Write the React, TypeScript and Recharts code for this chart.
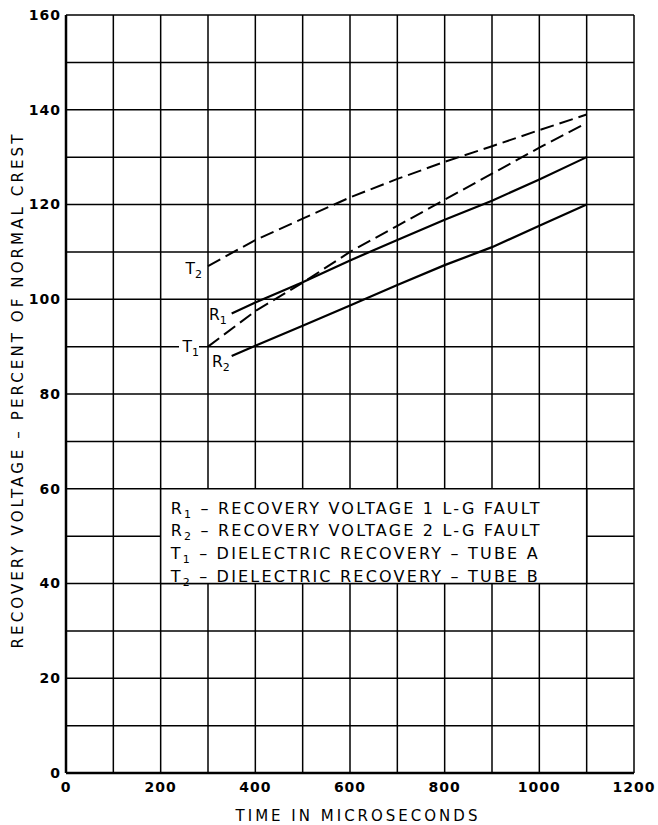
import type { CSSProperties } from "react";
import {
  CartesianGrid,
  Line,
  LineChart,
  ReferenceArea,
  XAxis,
  YAxis,
} from "recharts";

const time = [300, 350, 400, 500, 600, 700, 800, 900, 1000, 1100];
const r1 = [null, 97, 99.3, 103.6, 108.2, 112.5, 116.8, 120.8, 125.3, 130];
const r2 = [null, 88, 90.2, 94.4, 98.7, 103, 107.2, 111, 115.5, 120];
const t1 = [90, null, 97.5, 103.5, 110, 115.5, 121, 126.5, 132, 137.2];
const t2 = [107, null, 112.5, 117, 121.5, 125.4, 129, 132.3, 135.7, 139];

const xTicks = [0, 200, 400, 600, 800, 1000, 1200];
const yTicks = [0, 20, 40, 60, 80, 100, 120, 140, 160];
const gridX = [0, 100, 200, 300, 400, 500, 600, 700, 800, 900, 1000, 1100, 1200];
const gridY = [0, 10, 20, 30, 40, 50, 60, 70, 80, 90, 100, 110, 120, 130, 140, 150, 160];

const legendLines = [
  { letter: "R", sub: "1", text: " – RECOVERY VOLTAGE 1 L-G FAULT" },
  { letter: "R", sub: "2", text: " – RECOVERY VOLTAGE 2 L-G FAULT" },
  { letter: "T", sub: "1", text: " – DIELECTRIC RECOVERY – TUBE A" },
  { letter: "T", sub: "2", text: " – DIELECTRIC RECOVERY – TUBE B" },
];

const data = time.map((t, i) => ({ time: t, r1: r1[i], r2: r2[i], t1: t1[i], t2: t2[i] }));

const FONT = '"DejaVu Sans", sans-serif';

// label at the start of a curve; "gap" blanks the grid line behind it
function curveLabel(letter: string, sub: string, at: number, dx: number, dy: number, gap = false) {
  return (props: any) => {
    if (props.index !== at) return null;
    const x = props.x - dx;
    const y = props.y + dy;
    return (
      <g>
        {gap && <rect x={x - 20} y={y - 13} width={20} height={18} fill="#fff" />}
        <text x={x} y={y} textAnchor="end" fontFamily={FONT} fontSize={15.5} fill="#000">
          {letter}
          <tspan fontSize={11} dy={4}>{sub}</tspan>
        </text>
      </g>
    );
  };
}

function LegendBox(props: any) {
  const { x, y } = props.viewBox;
  return (
    <g>
      {legendLines.map((l, i) => (
        <text
          key={i}
          x={x + 10}
          y={y + 25 + i * 22.7}
          fontFamily={FONT}
          fontSize={16}
          letterSpacing={2.2}
          fill="#000"
        >
          {l.letter}
          <tspan fontSize={11} dy={4}>{l.sub}</tspan>
          <tspan dy={-4}>{l.text}</tspan>
        </text>
      ))}
    </g>
  );
}

export default function App() {
  return (
    <div style={styles.page}>
      <LineChart
        width={658}
        height={825}
        data={data}
        margin={{ top: 15, right: 24, left: 0, bottom: 0 }}
      >
        <CartesianGrid
          horizontalValues={gridY}
          verticalValues={gridX}
          stroke="#000"
          strokeWidth={1.5}
        />
        <XAxis
          dataKey="time"
          type="number"
          domain={[0, 1200]}
          ticks={xTicks}
          height={52}
          tickSize={0}
          tickMargin={9}
          tickLine={false}
          axisLine={{ stroke: "#000", strokeWidth: 2.5 }}
          tick={{ fill: "#000", fontSize: 14, fontFamily: FONT, fontWeight: "bold", letterSpacing: 1 }}
          label={{
            value: "TIME IN MICROSECONDS",
            position: "insideBottom",
            offset: 4,
            dx: 8,
            style: { fill: "#000", fontSize: 15, fontFamily: FONT, letterSpacing: 3 },
          }}
        />
        <YAxis
          type="number"
          domain={[0, 160]}
          ticks={yTicks}
          width={66}
          tickSize={0}
          tickMargin={5}
          tickLine={false}
          axisLine={{ stroke: "#000", strokeWidth: 2.5 }}
          tick={{ fill: "#000", fontSize: 14, fontFamily: FONT, fontWeight: "bold", letterSpacing: 1 }}
          label={(p: any) => {
            const vb = p.viewBox;
            const cx = 18;
            const cy = vb.y + vb.height / 2 - 4;
            return (
              <text
                x={cx}
                y={cy}
                transform={`rotate(-90 ${cx} ${cy})`}
                textAnchor="middle"
                dominantBaseline="central"
                fontFamily={FONT}
                fontSize={15}
                letterSpacing={3.1}
                fill="#000"
              >
                RECOVERY VOLTAGE – PERCENT OF NORMAL CREST
              </text>
            );
          }}
        />
        <ReferenceArea
          x1={200}
          x2={1100}
          y1={40}
          y2={60}
          fill="#fff"
          fillOpacity={1}
          stroke="#000"
          strokeWidth={1.5}
          label={LegendBox}
        />
        <Line
          dataKey="t2"
          stroke="#000"
          strokeWidth={2}
          strokeDasharray="14 6"
          dot={false}
          connectNulls
          isAnimationActive={false}
          label={curveLabel("T", "2", 0, 6, 8)}
        />
        <Line
          dataKey="t1"
          stroke="#000"
          strokeWidth={2}
          strokeDasharray="14 6"
          dot={false}
          connectNulls
          isAnimationActive={false}
          label={curveLabel("T", "1", 0, 9, 5, true)}
        />
        <Line
          dataKey="r1"
          stroke="#000"
          strokeWidth={2.2}
          dot={false}
          isAnimationActive={false}
          label={curveLabel("R", "1", 1, 5, 7)}
        />
        <Line
          dataKey="r2"
          stroke="#000"
          strokeWidth={2.2}
          dot={false}
          isAnimationActive={false}
          label={curveLabel("R", "2", 1, 2, 11)}
        />
      </LineChart>
    </div>
  );
}

const styles: Record<string, CSSProperties> = {
  page: {
    position: "absolute",
    left: 0,
    top: 0,
    width: 658,
    height: 825,
    background: "#fff",
  },
};
